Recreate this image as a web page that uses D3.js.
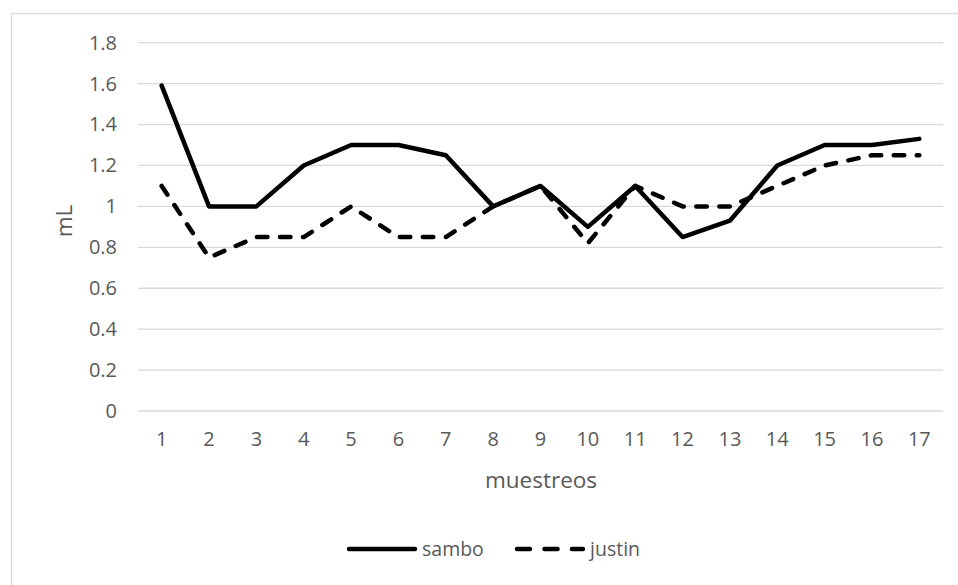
<!DOCTYPE html>
<html><head><meta charset="utf-8">
<script src="https://cdn.jsdelivr.net/npm/d3@7"></script>
<style>body{margin:0;background:#fff}svg{display:block}text{font-family:"Open Sans",sans-serif;fill:#595959}</style>
</head><body><svg id="c" width="958" height="585"></svg>
<script>
const categories = ["1","2","3","4","5","6","7","8","9","10","11","12","13","14","15","16","17"];
const sambo  = [1.59,1.0,1.0,1.2,1.3,1.3,1.25,1.0,1.1,0.9,1.1,0.85,0.93,1.2,1.3,1.3,1.33];
const justin = [1.1,0.75,0.85,0.85,1.0,0.85,0.85,1.0,1.1,0.82,1.1,1.0,1.0,1.1,1.2,1.25,1.25];
const yTicks = [0,0.2,0.4,0.6,0.8,1,1.2,1.4,1.6,1.8];
const seriesNames = ["sambo","justin"];

const svg = d3.select("#c");
svg.append("rect").attr("x",11.5).attr("y",13.5).attr("width",960).attr("height",600)
  .attr("fill","#fff").attr("stroke","#d9d9d9").attr("stroke-width",1.3);

const x = d3.scaleBand().domain(categories).range([138,943]);
const y = d3.scaleLinear().domain([0,1.8]).range([411,42.7]);

svg.append("g").selectAll("line").data(yTicks).join("line")
  .attr("x1",138).attr("x2",943).attr("y1",d=>y(d)).attr("y2",d=>y(d))
  .attr("stroke","#d9d9d9").attr("stroke-width",1.3);

const yAxis = d3.axisLeft(y).tickValues(yTicks).tickSize(0).tickPadding(0).tickFormat(d=>String(d));
const gy = svg.append("g").attr("transform","translate(117,0)").call(yAxis);
gy.select(".domain").remove();
gy.attr("font-size",null).attr("font-family",null);
gy.selectAll("text").style("font-size","20px").style("fill","#595959");

const xAxis = d3.axisBottom(x).tickSize(0).tickPadding(0);
const gx = svg.append("g").attr("transform","translate(0,432)").call(xAxis);
gx.select(".domain").remove();
gx.attr("font-size",null).attr("font-family",null);
gx.selectAll("text").style("font-size","20px").style("fill","#595959");

svg.append("text").attr("x",541).attr("y",488).attr("text-anchor","middle").style("font-size","22.5px").text("muestreos");
svg.append("text").attr("transform","translate(72,221) rotate(-90)").attr("text-anchor","middle").style("font-size","22.5px").text("mL");

const line = d3.line().x((d,i)=>x(categories[i])+x.bandwidth()/2).y(d=>y(d));
svg.append("path").datum(justin).attr("d",line).attr("fill","none").attr("stroke","#000")
  .attr("stroke-width",4.5).attr("stroke-dasharray","10.5,12.5").attr("stroke-linecap","round").attr("stroke-linejoin","round");
svg.append("path").datum(sambo).attr("d",line).attr("fill","none").attr("stroke","#000")
  .attr("stroke-width",4.5).attr("stroke-linecap","round").attr("stroke-linejoin","round");

const leg = svg.append("g");
leg.append("line").attr("x1",349).attr("x2",415).attr("y1",549).attr("y2",549).attr("stroke","#000").attr("stroke-width",4.5).attr("stroke-linecap","round");
leg.append("text").attr("x",422).attr("y",556).style("font-size","19.5px").text(seriesNames[0]);
leg.append("line").attr("x1",517).attr("x2",583).attr("y1",549).attr("y2",549).attr("stroke","#000").attr("stroke-width",4.5).attr("stroke-linecap","round").attr("stroke-dasharray","13,14.5");
leg.append("text").attr("x",590).attr("y",556).style("font-size","19.5px").text(seriesNames[1]);
</script></body></html>
